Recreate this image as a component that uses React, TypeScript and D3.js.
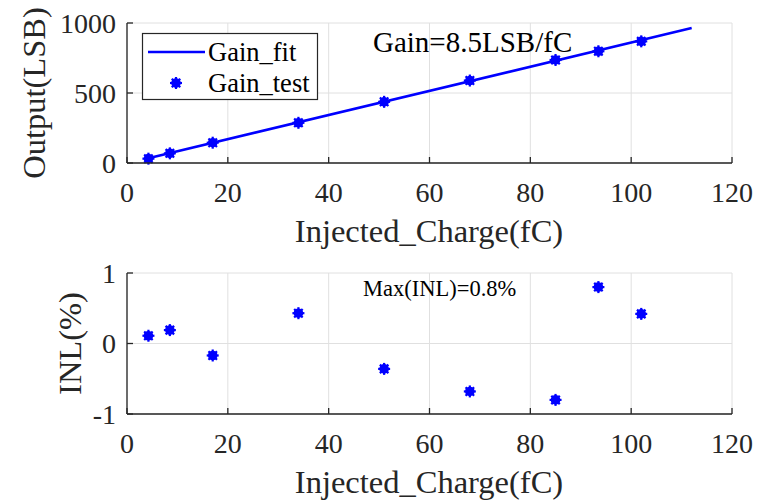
import React from "react";
import * as d3 from "d3";

const charge = [4.25, 8.5, 17, 34, 51, 68, 85, 93.5, 102];
const output = [31, 69, 145, 287, 437, 589, 736, 798, 869];
const inl = [0.11, 0.19, -0.17, 0.43, -0.36, -0.68, -0.8, 0.8, 0.42];
const fitX = [3.4, 112];
const fitY = [27, 964];
const xTicks = [0, 20, 40, 60, 80, 100, 120];
const yTicksTop = [0, 500, 1000];
const yTicksBot = [-1, 0, 1];

const FONT = "'Liberation Serif', 'Times New Roman', serif";
const AX = "#262626";
const GRID = "#e0e0e0";
const BLUE = "#0000ff";

function Star({ cx, cy }: { cx: number; cy: number }) {
  const r = 6;
  const angles = [0, 45, 90, 135];
  return (
    <g>
      <circle cx={cx} cy={cy} r={4.8} fill={BLUE} />
      {angles.map((a) => {
        const rad = (a * Math.PI) / 180;
        return (
          <line
            key={a}
            x1={cx - r * Math.cos(rad)}
            y1={cy - r * Math.sin(rad)}
            x2={cx + r * Math.cos(rad)}
            y2={cy + r * Math.sin(rad)}
            stroke={BLUE}
            strokeWidth={2.2}
          />
        );
      })}
    </g>
  );
}

function Panel({
  top,
  bottom,
  yDomain,
  yTicks,
  yLabel,
  yLabelX,
  children,
}: any) {
  const x = d3.scaleLinear().domain([0, 120]).range([127, 732]);
  const y = d3.scaleLinear().domain(yDomain).range([bottom, top]);
  return (
    <g>
      {xTicks.map((t) => (
        <line key={"gx" + t} x1={x(t)} x2={x(t)} y1={top} y2={bottom} stroke={GRID} strokeWidth={1} />
      ))}
      {yTicks.map((t: number) => (
        <line key={"gy" + t} x1={127} x2={732} y1={y(t)} y2={y(t)} stroke={GRID} strokeWidth={1} />
      ))}
      {children(x, y)}
      <line x1={127} x2={732} y1={bottom} y2={bottom} stroke={AX} strokeWidth={1.3} />
      <line x1={127} x2={127} y1={top} y2={bottom} stroke={AX} strokeWidth={1.3} />
      {xTicks.map((t) => (
        <g key={"tx" + t}>
          <line x1={x(t)} x2={x(t)} y1={bottom} y2={bottom - 6} stroke={AX} strokeWidth={1.3} />
          <text x={x(t)} y={bottom + 39} textAnchor="middle" fontSize={28} fill={AX} fontFamily={FONT}>
            {t}
          </text>
        </g>
      ))}
      {yTicks.map((t: number) => (
        <g key={"ty" + t}>
          <line x1={127} x2={133} y1={y(t)} y2={y(t)} stroke={AX} strokeWidth={1.3} />
          <text x={116} y={y(t) + 9.5} textAnchor="end" fontSize={28} fill={AX} fontFamily={FONT}>
            {t}
          </text>
        </g>
      ))}
      <text
        x={429}
        y={bottom + 79}
        textAnchor="middle"
        fontSize={32.5}
        fill={AX}
        fontFamily={FONT}
      >
        Injected_Charge(fC)
      </text>
      <text
        transform={`translate(${yLabelX},${(top + bottom) / 2}) rotate(-90)`}
        textAnchor="middle"
        fontSize={32.5}
        fill={AX}
        fontFamily={FONT}
      >
        {yLabel}
      </text>
    </g>
  );
}

export default function App() {
  return (
    <svg width={763} height={500} style={{ position: "absolute", left: 0, top: 0, background: "#fff" }}>
      <rect width={763} height={500} fill="#fff" />
      <Panel top={23} bottom={163} yDomain={[0, 1000]} yTicks={yTicksTop} yLabel="Output(LSB)" yLabelX={45}>
        {(x: any, y: any) => {
          const line = d3
            .line<number>()
            .x((d) => x(d))
            .y((_, i) => y(fitY[i]));
          return (
            <g>
              <path d={line(fitX) || ""} stroke={BLUE} strokeWidth={2.6} fill="none" />
              {charge.map((c, i) => (
                <Star key={i} cx={x(c)} cy={y(output[i])} />
              ))}
              <text x={373} y={52} fontSize={29} fill="#000" fontFamily={FONT}>
                Gain=8.5LSB/fC
              </text>
              <rect x={142.5} y={33.5} width={175} height={66} fill="#fff" stroke={AX} strokeWidth={1.2} />
              <line x1={148} x2={205} y1={52} y2={52} stroke={BLUE} strokeWidth={2.6} />
              <text x={208} y={61} fontSize={26.5} fill="#000" fontFamily={FONT}>
                Gain_fit
              </text>
              <Star cx={176} cy={83} />
              <text x={208} y={92} fontSize={26.5} fill="#000" fontFamily={FONT}>
                Gain_test
              </text>
            </g>
          );
        }}
      </Panel>
      <Panel top={273} bottom={414} yDomain={[-1, 1]} yTicks={yTicksBot} yLabel="INL(%)" yLabelX={81}>
        {(x: any, y: any) => (
          <g>
            {charge.map((c, i) => (
              <Star key={i} cx={x(c)} cy={y(inl[i])} />
            ))}
            <text x={363} y={296} fontSize={22.5} fill="#000" fontFamily={FONT}>
              Max(INL)=0.8%
            </text>
          </g>
        )}
      </Panel>
    </svg>
  );
}
